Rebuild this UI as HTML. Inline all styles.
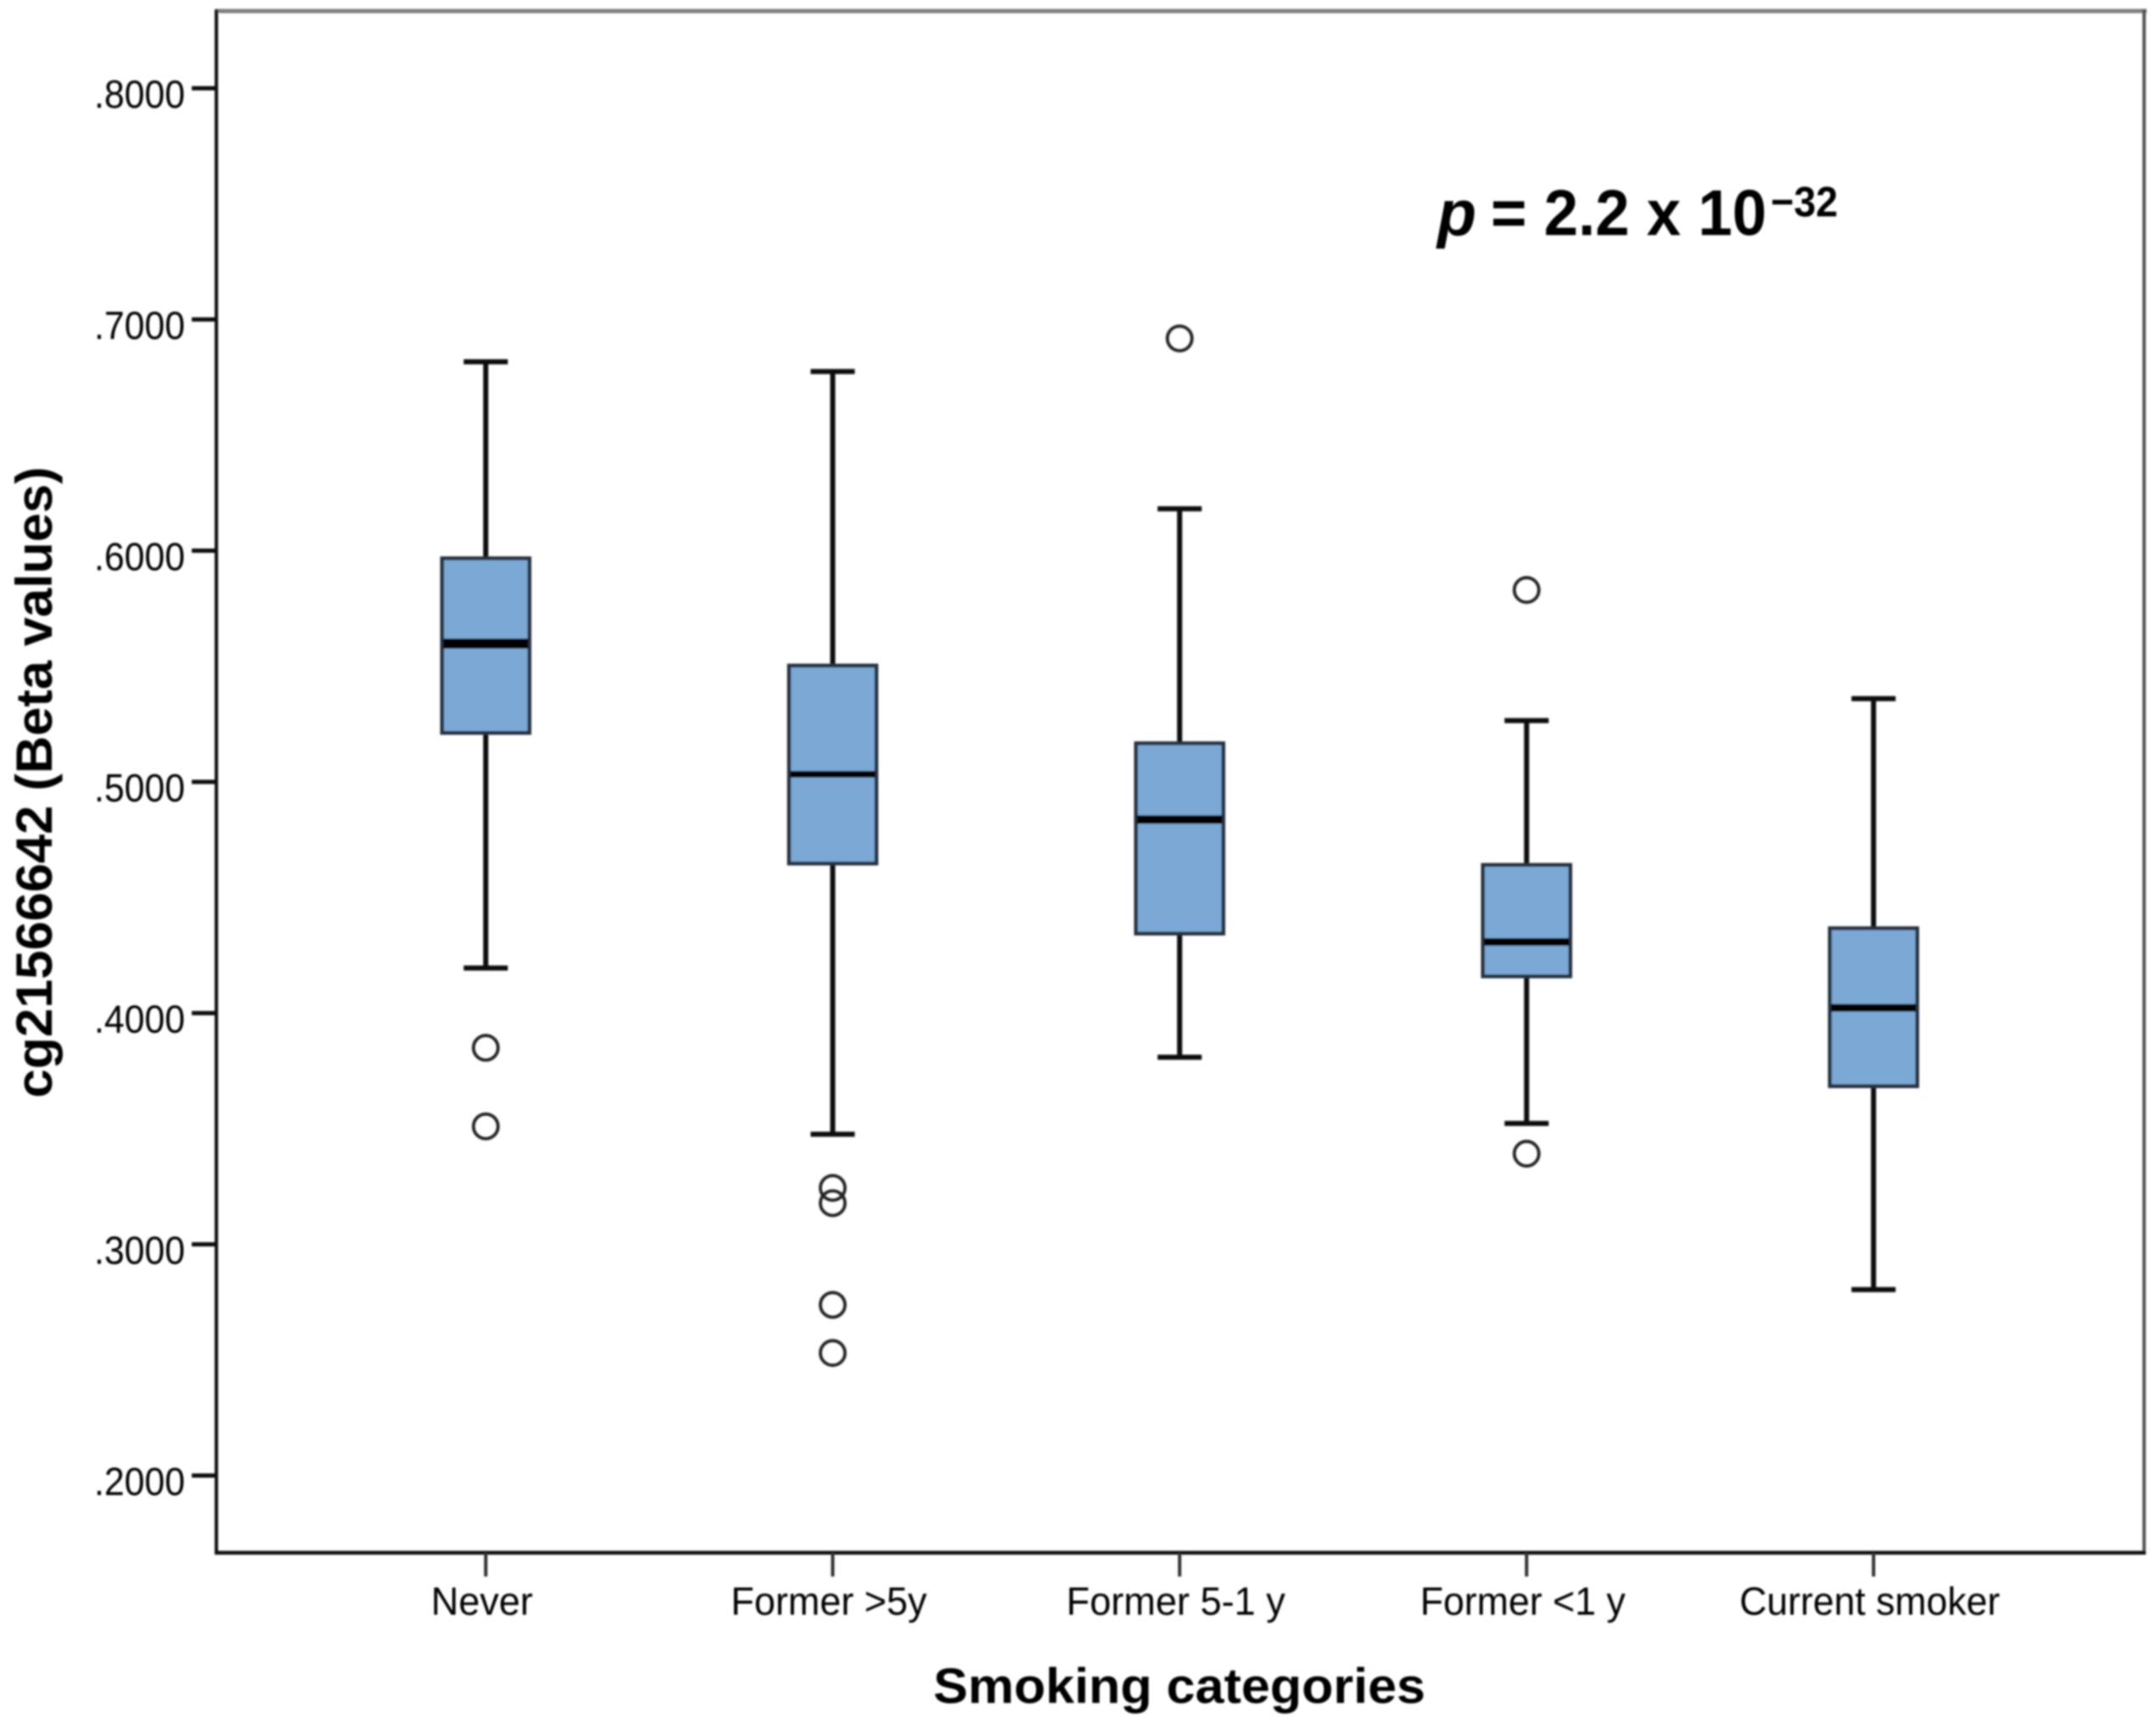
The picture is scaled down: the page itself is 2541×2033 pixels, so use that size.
<!DOCTYPE html>
<html lang="en">
<head>
<meta charset="utf-8">
<title>cg21566642 by smoking category</title>
<style>
html,body{margin:0;padding:0;background:#fff;width:2541px;height:2033px;overflow:hidden}
svg{display:block}
text{font-family:"Liberation Sans",Arial,sans-serif;fill:#000}
</style>
</head>
<body>
<svg id="chart" xmlns="http://www.w3.org/2000/svg" width="2541" height="2033" viewBox="0 0 2541 2033">
<defs><filter id="soft" x="-2%" y="-2%" width="104%" height="104%"><feGaussianBlur stdDeviation="1.1"/></filter></defs>
<rect width="2541" height="2033" fill="#fff"/>
<g id="root" filter="url(#soft)">
<line x1="253" y1="13" x2="2530" y2="13" stroke="#808080" stroke-width="5"/>
<line x1="2527" y1="11" x2="2527" y2="1831" stroke="#555" stroke-width="4"/>
<line x1="255" y1="11" x2="255" y2="1831" stroke="#111" stroke-width="4"/>
<line x1="253" y1="1830" x2="2529" y2="1830" stroke="#111" stroke-width="4.5"/>
<g id="marks"></g>
<g id="axes"></g>
<text transform="translate(61,1294) rotate(-90)" font-size="60" font-weight="700" textLength="744" lengthAdjust="spacingAndGlyphs">cg21566642 (Beta values)</text>
<text x="1100" y="2007" font-size="58" font-weight="700" textLength="580" lengthAdjust="spacingAndGlyphs">Smoking categories</text>
<g>
<text x="1694" y="277" font-size="76" font-weight="700" font-style="italic" textLength="46" lengthAdjust="spacingAndGlyphs">p</text>
<text x="1757" y="277" font-size="76" font-weight="700" textLength="325" lengthAdjust="spacingAndGlyphs">= 2.2 x 10</text>
<text x="2087" y="255" font-size="50" font-weight="700" textLength="79" lengthAdjust="spacingAndGlyphs">−32</text>
</g>
</g>
</svg>
<script>
const categories = ["Never", "Former >5y", "Former 5-1 y", "Former <1 y", "Current smoker"];
const whiskerHigh = [0.6817, 0.6775, 0.6181, 0.5265, 0.5360];
const upperQuartile = [0.5967, 0.5503, 0.5167, 0.4641, 0.4367];
const medianValue = [0.5598, 0.5033, 0.4837, 0.4308, 0.4023];
const lowerQuartile = [0.5212, 0.4647, 0.4344, 0.4159, 0.3684];
const whiskerLow = [0.4195, 0.3476, 0.3809, 0.3523, 0.2804];
const outlierValues = [[0.385, 0.351], [0.3244, 0.3178, 0.2738, 0.2530], [0.6918], [0.5830, 0.3392], []];
const tickValues = [0.8, 0.7, 0.6, 0.5, 0.4, 0.3, 0.2];
const tickLabels = [".8000", ".7000", ".6000", ".5000", ".4000", ".3000", ".2000"];

const NS = "http://www.w3.org/2000/svg";
const marks = document.getElementById("marks");
const axes = document.getElementById("axes");

function yScale(v) { return 104 + (0.8 - v) * 2725; }
function xScale(i) { return 572.5 + i * 408.9; }

function make(parent, tag, attrs) {
  const node = document.createElementNS(NS, tag);
  for (const key in attrs) node.setAttribute(key, attrs[key]);
  parent.appendChild(node);
  return node;
}

const medianStroke = [12, 8, 10, 9, 9];
const labelFit = [120, 231, 258, 242, 307];

tickValues.forEach(function (v, i) {
  const y = yScale(v);
  const tick = make(axes, "line", { x1: 226, x2: 255, y1: y, y2: y, stroke: "#111", "stroke-width": 5 });
  
  
  const label = make(axes, "text", { x: 111, y: y + 23, "font-size": 46, textLength: 107, lengthAdjust: "spacingAndGlyphs" });
  label.textContent = tickLabels[i];
  
  
});

categories.forEach(function (name, i) {
  const x = xScale(i);
  const tick = make(axes, "line", { x1: x, x2: x, y1: 1830, y2: 1858, stroke: "#333", "stroke-width": 4 });
  
  
  const label = make(axes, "text", { x: x - labelFit[i] / 2 - 4.5, y: 1903, "font-size": 46, textLength: labelFit[i], lengthAdjust: "spacingAndGlyphs" });
  label.textContent = name;
  
  

  const stem = make(marks, "line", { x1: x, x2: x, y1: yScale(whiskerHigh[i]), y2: yScale(whiskerLow[i]), stroke: "#111", "stroke-width": 6 });
  
  

  const capHigh = make(marks, "line", { x1: x - 26, x2: x + 26, y1: yScale(whiskerHigh[i]), y2: yScale(whiskerHigh[i]), stroke: "#111", "stroke-width": 6 });
  
  

  const capLow = make(marks, "line", { x1: x - 26, x2: x + 26, y1: yScale(whiskerLow[i]), y2: yScale(whiskerLow[i]), stroke: "#111", "stroke-width": 6 });
  
  

  const top = yScale(upperQuartile[i]);
  const bottom = yScale(lowerQuartile[i]);
  const box = make(marks, "rect", { x: x - 51.5, y: top, width: 103, height: bottom - top, fill: "#7ba8d6", stroke: "#27333f", "stroke-width": 4.5 });
  
  

  const med = make(marks, "line", { x1: x - 50, x2: x + 50, y1: yScale(medianValue[i]), y2: yScale(medianValue[i]), stroke: "#000", "stroke-width": medianStroke[i] });
  
  

  outlierValues[i].forEach(function (v) {
    const dot = make(marks, "circle", { cx: x, cy: yScale(v), r: 14.5, fill: "none", stroke: "#222", "stroke-width": 3.8 });
    
    
  });
});
</script>
</body>
</html>
